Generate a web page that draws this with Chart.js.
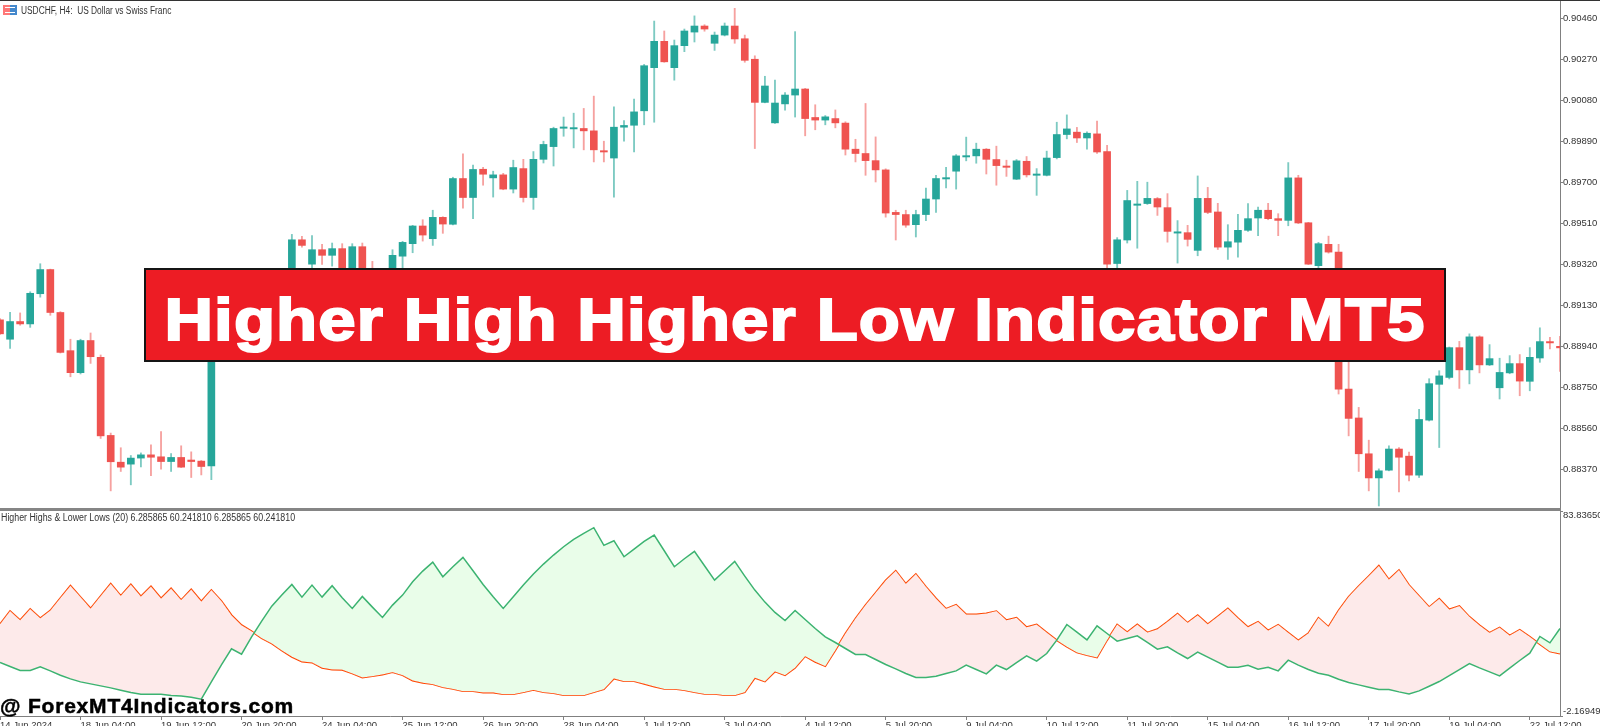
<!DOCTYPE html>
<html>
<head>
<meta charset="utf-8">
<title>Higher High Higher Low Indicator MT5</title>
<script src="https://cdn.jsdelivr.net/npm/chart.js@4/dist/chart.umd.min.js"></script>
<style>
  html, body { margin: 0; padding: 0; background: #fff; }
  #page { position: relative; width: 1600px; height: 726px; overflow: hidden; background: #fff; font-family: "Liberation Sans", sans-serif; }
  canvas { position: absolute; left: 0; }
  #priceChart { top: 0; }
  #indChart { top: 511px; }
  #topLine { position: absolute; left: 0; top: 0; width: 1600px; height: 1px; background: #333; }
  #sepLine { position: absolute; left: 0; top: 508px; width: 1561px; height: 3px; background: #858585; }
  .status { position: absolute; font-size: 10px; line-height: 12px; color: #333; white-space: pre; transform-origin: left center; }
  #symbol { left: 21px; top: 5px; transform: scaleX(0.835); }
  #indName { left: 1px; top: 512px; transform: scaleX(0.883); }
  #icon { position: absolute; left: 3px; top: 5px; width: 14px; height: 10px; background: linear-gradient(90deg, #f77 0 50%, #48c 50% 100%); }
  #icon:after { content: ""; position: absolute; left: 2px; top: 2px; width: 10px; height: 6px; border-top: 1px solid #fff; border-bottom: 1px solid #fff; box-sizing: border-box; }
  #banner { position: absolute; box-sizing: border-box; left: 144px; top: 268px; width: 1302px; height: 94px; background: #ed1c24; border: 2px solid #151515; color: #fff; font-weight: bold; font-size: 60px; line-height: 100px; text-align: center; white-space: nowrap; overflow: hidden; -webkit-text-stroke: 2px #fff; }
  #bannerText { display: inline-block; letter-spacing: 1px; transform: scaleX(1.12); }
  #site { position: absolute; left: 0; top: 694px; font-weight: bold; font-size: 21px; line-height: 24px; color: #000; letter-spacing: 0.8px; white-space: pre; -webkit-text-stroke: 0.5px #000; }
</style>
</head>
<body>
<div id="page">
  <canvas id="priceChart" width="1600" height="509"></canvas>
  <canvas id="indChart" width="1600" height="215"></canvas>
  <div id="topLine"></div>
  <div id="sepLine"></div>
  <div id="icon"></div>
  <div class="status" id="symbol"></div>
  <div class="status" id="indName"></div>
  <div id="banner"><span id="bannerText"></span></div>
  <div id="site"></div>
</div>
<script>
const symbolText = 'USDCHF, H4:  US Dollar vs Swiss Franc';
const indicatorText = 'Higher Highs & Lower Lows (20) 6.285865 60.241810 6.285865 60.241810';
const bannerText = 'Higher High Higher Low Indicator MT5';
const siteText = '@ ForexMT4Indicators.com';

// one label every 8 bars
const timeLabels = ['14 Jun 2024', '18 Jun 04:00', '19 Jun 12:00', '20 Jun 20:00', '24 Jun 04:00',
  '25 Jun 12:00', '26 Jun 20:00', '28 Jun 04:00', '1 Jul 12:00', '3 Jul 04:00',
  '4 Jul 12:00', '5 Jul 20:00', '9 Jul 04:00', '10 Jul 12:00', '11 Jul 20:00',
  '15 Jul 04:00', '16 Jul 12:00', '17 Jul 20:00', '19 Jul 04:00', '22 Jul 12:00'];
const priceTicks = [0.90460, 0.90270, 0.90080, 0.89890, 0.89700, 0.89510, 0.89320, 0.89130, 0.88940, 0.88750, 0.88560, 0.88370];
const priceMax = 0.90540, priceMin = 0.88185;
const indMax = 83.83650, indMin = -2.16949;

const open = [
0.89062,0.88972,0.89054,0.89043,0.89183,0.89295,0.89096,0.88919,0.88817,0.88966,
0.88888,0.88526,0.88402,0.88393,0.88421,0.88436,0.88427,0.88405,0.88424,0.88412,
0.88407,0.88385,0.89151,0.89221,0.89151,0.89207,0.89161,0.89221,0.89170,0.89221,
0.89433,0.89320,0.89387,0.89361,0.89392,0.89235,0.89401,0.89282,0.89221,0.89268,
0.89357,0.89415,0.89497,0.89438,0.89537,0.89505,0.89717,0.89629,0.89760,0.89720,
0.89734,0.89668,0.89763,0.89629,0.89806,0.89865,0.89950,0.89947,0.89949,0.89938,
0.89845,0.89812,0.89955,0.89964,0.90031,0.90231,0.90353,0.90231,0.90333,0.90396,
0.90424,0.90344,0.90382,0.90424,0.90365,0.90270,0.90070,0.89975,0.90063,0.90104,
0.90132,0.90000,0.89988,0.89995,0.89974,0.89853,0.89833,0.89800,0.89757,0.89560,
0.89550,0.89503,0.89550,0.89622,0.89715,0.89751,0.89817,0.89822,0.89853,0.89805,
0.89774,0.89714,0.89797,0.89732,0.89732,0.89814,0.89921,0.89932,0.89905,0.89924,
0.89842,0.89323,0.89432,0.89593,0.89601,0.89624,0.89582,0.89464,0.89466,0.89384,
0.89625,0.89562,0.89399,0.89422,0.89477,0.89534,0.89570,0.89531,0.89523,0.89720,
0.89512,0.89313,0.89412,0.89376,0.88741,0.88607,0.88441,0.88329,0.88365,0.88463,
0.88430,0.88342,0.88597,0.88763,0.88795,0.88933,0.88830,0.88983,0.88853,0.88747,
0.88816,0.88859,0.88777,0.88885,0.88960,0.88939];
const high = [
0.89068,0.89097,0.89094,0.89192,0.89322,0.89297,0.89100,0.88972,0.88972,0.89001,
0.88899,0.88537,0.88469,0.88433,0.88445,0.88483,0.88544,0.88442,0.88478,0.88450,
0.88410,0.89175,0.89235,0.89244,0.89226,0.89226,0.89240,0.89244,0.89268,0.89458,
0.89449,0.89453,0.89412,0.89418,0.89415,0.89415,0.89418,0.89333,0.89282,0.89387,
0.89426,0.89500,0.89526,0.89570,0.89540,0.89723,0.89831,0.89779,0.89769,0.89751,
0.89741,0.89802,0.89806,0.89842,0.89890,0.89955,0.90002,0.90020,0.90042,0.90099,
0.89890,0.90049,0.89986,0.90085,0.90246,0.90447,0.90401,0.90359,0.90410,0.90471,
0.90430,0.90396,0.90438,0.90506,0.90382,0.90286,0.90191,0.90173,0.90116,0.90398,
0.90135,0.90059,0.90009,0.90035,0.89980,0.89899,0.90065,0.89910,0.89762,0.89570,
0.89570,0.89570,0.89673,0.89732,0.89769,0.89828,0.89909,0.89881,0.89856,0.89867,
0.89802,0.89805,0.89819,0.89763,0.89844,0.89978,0.90012,0.89954,0.89933,0.89983,
0.89871,0.89443,0.89662,0.89704,0.89700,0.89629,0.89647,0.89522,0.89500,0.89729,
0.89676,0.89602,0.89503,0.89551,0.89601,0.89585,0.89602,0.89554,0.89791,0.89732,
0.89514,0.89421,0.89450,0.89412,0.88919,0.88656,0.88504,0.88371,0.88478,0.88470,
0.88449,0.88647,0.88789,0.88826,0.88936,0.88962,0.88997,0.88988,0.88947,0.88884,
0.88896,0.88901,0.88933,0.89025,0.88981,0.88986];
const low = [
0.88994,0.88930,0.89037,0.89027,0.89167,0.89083,0.88908,0.88798,0.88811,0.88860,
0.88512,0.88269,0.88359,0.88297,0.88380,0.88339,0.88370,0.88359,0.88377,0.88331,
0.88343,0.88321,0.89128,0.89133,0.89124,0.89142,0.89142,0.89151,0.89151,0.89198,
0.89399,0.89282,0.89319,0.89311,0.89217,0.89217,0.89198,0.89198,0.89198,0.89244,
0.89282,0.89373,0.89427,0.89407,0.89463,0.89502,0.89580,0.89531,0.89686,0.89631,
0.89665,0.89650,0.89608,0.89574,0.89789,0.89775,0.89913,0.89859,0.89850,0.89794,
0.89794,0.89631,0.89890,0.89840,0.89966,0.89978,0.90256,0.90173,0.90305,0.90350,
0.90400,0.90311,0.90378,0.90344,0.90256,0.89856,0.90068,0.89973,0.90034,0.90002,
0.89915,0.89943,0.89966,0.89952,0.89826,0.89794,0.89732,0.89701,0.89538,0.89432,
0.89491,0.89446,0.89522,0.89560,0.89673,0.89668,0.89799,0.89788,0.89738,0.89686,
0.89727,0.89712,0.89724,0.89639,0.89729,0.89808,0.89901,0.89884,0.89853,0.89833,
0.89290,0.89282,0.89418,0.89394,0.89597,0.89546,0.89422,0.89325,0.89404,0.89359,
0.89554,0.89388,0.89342,0.89353,0.89472,0.89452,0.89526,0.89452,0.89498,0.89508,
0.89318,0.89295,0.89371,0.88718,0.88524,0.88359,0.88269,0.88199,0.88362,0.88264,
0.88315,0.88331,0.88593,0.88470,0.88788,0.88744,0.88765,0.88816,0.88850,0.88695,
0.88812,0.88710,0.88733,0.88865,0.88927,0.88823];
const close = [
0.88997,0.89054,0.89043,0.89185,0.89295,0.89096,0.88911,0.88817,0.88966,0.88891,
0.88524,0.88404,0.88379,0.88421,0.88436,0.88425,0.88405,0.88424,0.88379,0.88405,
0.88382,0.89151,0.89221,0.89151,0.89207,0.89161,0.89221,0.89170,0.89221,0.89433,
0.89407,0.89387,0.89361,0.89392,0.89235,0.89401,0.89221,0.89221,0.89268,0.89361,
0.89421,0.89497,0.89455,0.89537,0.89506,0.89717,0.89629,0.89759,0.89737,0.89734,
0.89668,0.89768,0.89629,0.89806,0.89875,0.89949,0.89955,0.89950,0.89938,0.89850,
0.89840,0.89955,0.89963,0.90026,0.90240,0.90353,0.90258,0.90333,0.90401,0.90424,
0.90410,0.90382,0.90424,0.90364,0.90265,0.90070,0.90146,0.90067,0.90104,0.90132,
0.89995,0.89988,0.90003,0.89975,0.89853,0.89833,0.89800,0.89757,0.89557,0.89550,
0.89501,0.89550,0.89622,0.89717,0.89721,0.89822,0.89822,0.89853,0.89806,0.89777,
0.89769,0.89799,0.89734,0.89735,0.89812,0.89921,0.89947,0.89905,0.89927,0.89840,
0.89320,0.89433,0.89615,0.89599,0.89625,0.89585,0.89472,0.89467,0.89435,0.89625,
0.89560,0.89399,0.89424,0.89477,0.89531,0.89570,0.89531,0.89523,0.89720,0.89511,
0.89320,0.89415,0.89376,0.88741,0.88605,0.88441,0.88329,0.88362,0.88463,0.88425,
0.88342,0.88600,0.88766,0.88802,0.88933,0.88830,0.88983,0.88853,0.88882,0.88818,
0.88859,0.88778,0.88888,0.88961,0.88955,0.88932];

const higherHighs = [
36.37,41.83,38.05,42.67,38.89,42.11,47.29,52.47,47.71,42.95,
48.13,53.31,48.27,53.03,47.99,52.19,47.15,51.35,46.45,50.93,
45.89,50.65,46.03,40.15,35.95,33.43,30.49,28.25,25.31,22.65,
20.69,20.27,18.03,17.33,17.19,15.65,13.97,14.53,15.23,16.21,
14.95,12.71,11.73,11.17,9.91,9.21,8.23,8.23,7.67,7.67,
6.97,6.97,7.81,8.79,7.81,7.39,6.55,6.55,6.55,7.81,
9.07,13.55,12.43,12.43,11.31,10.19,9.21,9.21,8.65,7.81,
7.11,7.11,6.55,6.55,7.81,13.83,12.29,16.49,14.95,18.03,
22.93,20.55,18.73,25.45,32.45,38.75,44.35,49.53,54.71,58.77,
53.31,57.37,52.05,47.15,42.81,44.49,40.43,40.43,40.85,41.83,
38.05,39.03,35.11,36.23,32.87,29.65,26.85,24.47,23.35,22.37,
29.65,36.23,33.01,36.23,32.87,34.27,37.35,40.71,36.93,40.15,
36.37,39.59,42.95,38.89,35.11,37.35,33.71,36.09,32.73,29.51,
32.59,39.03,35.25,42.11,47.85,52.33,56.53,60.87,55.13,59.05,
52.75,48.13,43.51,47.01,42.53,43.93,39.45,35.95,32.73,34.97,
31.61,33.99,31.05,27.97,24.89,24.05];
const lowerLows = [
20.27,18.59,16.91,16.91,18.45,16.77,14.95,13.41,12.15,11.31,
10.47,9.63,8.65,7.67,6.97,6.97,6.97,6.41,6.27,5.71,
4.87,12.15,19.29,26.01,23.77,31.05,37.63,43.93,48.55,53.03,
47.71,52.75,47.71,52.47,47.43,42.95,47.99,43.51,39.17,44.35,
48.55,54.15,58.63,62.41,56.25,60.45,64.37,58.77,53.03,47.85,
42.95,47.85,52.75,57.37,61.57,65.35,68.85,71.93,74.45,76.83,
69.41,71.37,64.65,67.87,71.09,73.75,67.17,60.45,63.81,66.89,
60.87,54.85,58.77,62.69,56.53,50.65,45.61,41.27,37.91,42.11,
38.33,34.55,31.05,28.67,26.15,23.63,23.63,21.53,19.43,17.61,
15.65,13.97,13.97,14.53,15.65,16.77,19.15,17.33,15.51,19.15,
17.33,20.27,23.07,20.83,24.05,29.65,36.23,33.01,29.79,35.67,
32.45,29.23,30.35,31.47,28.67,25.87,26.85,24.33,21.95,24.61,
22.51,20.41,18.31,18.31,19.15,17.47,18.31,16.77,21.25,19.15,
17.33,15.79,14.95,13.27,11.87,10.89,9.91,8.93,8.93,7.95,
7.11,8.37,10.33,12.29,14.81,17.33,19.85,18.03,16.35,14.67,
17.89,21.11,24.19,31.19,28.53,34.55];

const upColor = '#26a69a', downColor = '#ef5350';
const upWick = 'rgba(38,166,154,0.6)', downWick = 'rgba(239,83,80,0.55)';
const axisColor = '#808080', textColor = '#333';
const axisFont = { family: '"Liberation Sans", sans-serif', size: 9.5, lineHeight: 1 };

document.getElementById('symbol').textContent = symbolText;
document.getElementById('indName').textContent = indicatorText;
document.getElementById('bannerText').textContent = bannerText;
document.getElementById('site').textContent = siteText;

const bars = open.map((_, i) => i);
const isUp = bars.map(i => close[i] >= open[i]);
const xLabels = bars.map(i => i % 8 === 0 ? timeLabels[i / 8] : '');

// drop the room Chart.js keeps for half of the edge labels
function noPadding(s) {
  s.paddingTop = s.paddingBottom = s.paddingLeft = s.paddingRight = 0;
}

function yAxis(min, max, values, format) {
  return {
    position: 'right', min: min, max: max,
    border: { color: axisColor },
    grid: { drawOnChartArea: false, color: axisColor, tickLength: 3 },
    afterBuildTicks: s => { s.ticks = values.map(v => ({ value: v })); },
    afterFit: s => { s.width = 40; noPadding(s); },
    ticks: { color: textColor, font: axisFont, padding: 0, autoSkip: false, callback: format }
  };
}

new Chart(document.getElementById('priceChart'), {
  type: 'bar',
  data: {
    labels: xLabels,
    datasets: [
      {
        data: bars.map(i => [open[i], close[i]]),
        backgroundColor: bars.map(i => isUp[i] ? upColor : downColor),
        barThickness: 7, minBarLength: 1.3, borderWidth: 0
      },
      {
        data: bars.map(i => [low[i], high[i]]),
        backgroundColor: bars.map(i => isUp[i] ? upWick : downWick),
        barThickness: 1.2, borderWidth: 0
      }
    ]
  },
  options: {
    responsive: false, animation: false, events: [],
    layout: { autoPadding: false, padding: { top: 1 } },
    plugins: { legend: { display: false }, tooltip: { enabled: false } },
    datasets: { bar: { grouped: false } },
    scales: {
      x: { display: false, offset: false, grid: { offset: false } },
      y: yAxis(priceMin, priceMax, priceTicks, v => v.toFixed(5))
    }
  }
});

new Chart(document.getElementById('indChart'), {
  type: 'line',
  data: {
    labels: xLabels,
    datasets: [
      {
        data: lowerLows, borderColor: '#3cb371', borderWidth: 1.5, pointRadius: 0, tension: 0,
        fill: { target: 1, above: '#e9fde9', below: '#fdeaea' }
      },
      { data: higherHighs, borderColor: '#ff4500', borderWidth: 1.8, pointRadius: 0, tension: 0, fill: false }
    ]
  },
  options: {
    responsive: false, animation: false, events: [],
    layout: { autoPadding: false },
    plugins: { legend: { display: false }, tooltip: { enabled: false } },
    scales: {
      x: {
        offset: false,
        border: { color: axisColor },
        grid: { drawOnChartArea: false, color: axisColor, tickLength: 4, offset: false },
        afterBuildTicks: s => { s.ticks = s.ticks.filter(t => t.value % 8 === 0); },
        afterFit: s => { s.height = 10; noPadding(s); },
        ticks: {
          color: textColor, font: axisFont, align: 'start', padding: 1, autoSkip: false, maxRotation: 0,
          callback: function (v) { return xLabels[v]; }
        }
      },
      // edge labels sit inside the pane, so push them off the tick with an empty line
      y: yAxis(indMin, indMax, [indMin, indMax], v => v === indMax ? ['', v.toFixed(5)] : [v.toFixed(5), ''])
    }
  }
});
</script>
</body>
</html>
